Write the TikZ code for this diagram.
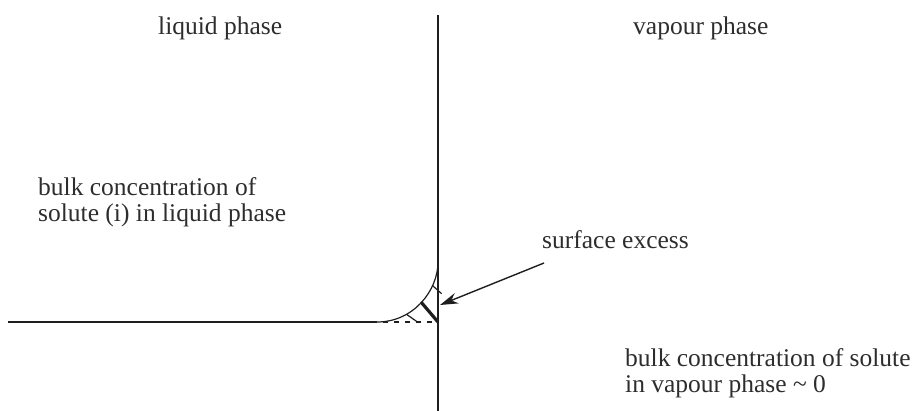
\documentclass[tikz,border=0pt]{standalone}
\usepackage{fontspec}
\setmainfont{Liberation Serif}
\usetikzlibrary{arrows.meta,calc}
\definecolor{ink}{RGB}{30,30,30}
\definecolor{txt}{RGB}{45,45,45}
\tikzset{
  lbl/.style={text=txt, font=\fontsize{25.5}{26}\selectfont, inner sep=0pt, align=left},
  axis/.style={draw=ink, line width=2.4pt},
  prof/.style={draw=ink, line width=1.2pt},
  hatch/.style={draw=ink, line width=1.2pt},
  tick/.style={draw=ink, line width=3.2pt},
  pointer/.style={draw=ink, line width=1.4pt, -{Stealth[length=18pt,width=11pt]}}
}
\begin{document}
\begin{tikzpicture}[x=1pt,y=-1pt]
\useasboundingbox (0,0) rectangle (915,411);
% axes
\coordinate (vtop) at (438,15);
\coordinate (vbot) at (438,411);
\coordinate (hl) at (8,322);
\coordinate (hr) at (377,322);
\coordinate (corner) at (438,322);
\coordinate (ctop) at (438,262);
\draw[axis] (vtop) -- (vbot);
\draw[axis] (hl) -- (hr);
% profile
\draw[prof] (hr) .. controls (414,322) and (438,290) .. (ctop)
  coordinate[pos=0.3] (h1a) coordinate[pos=0.72] (h2a);
% dashed baseline
\draw[ink, line width=1.3pt, dash pattern=on 5pt off 6pt] ($(hr)+(6,0)$) -- (corner);
% hatch
\draw[hatch] (h1a) -- ($(h1a)+(10,7)$);
\draw[hatch] (h2a) -- ($(h2a)+(9,8)$);
% thick tick
\coordinate (ta) at (421,302);
\draw[tick] (ta) -- (corner);
% labels
\node[lbl, anchor=base west] (liq) at (158,35) {liquid phase};
\node[lbl, anchor=base west] (vap) at (633,35) {vapour phase};
\node[lbl, anchor=base west] (bulkl) at (38,222) {bulk concentration of\\solute (i) in liquid phase};
\node[lbl, anchor=base west] (surf) at (542,249) {surface excess};
\node[lbl, anchor=base west] (bulkv) at (625,392) {bulk concentration of solute\\in vapour phase \textasciitilde{} 0};
\coordinate (astart) at (544,263);
\coordinate (aend) at (440,305);
\draw[pointer] (astart) -- (aend);
\end{tikzpicture}
\end{document}
